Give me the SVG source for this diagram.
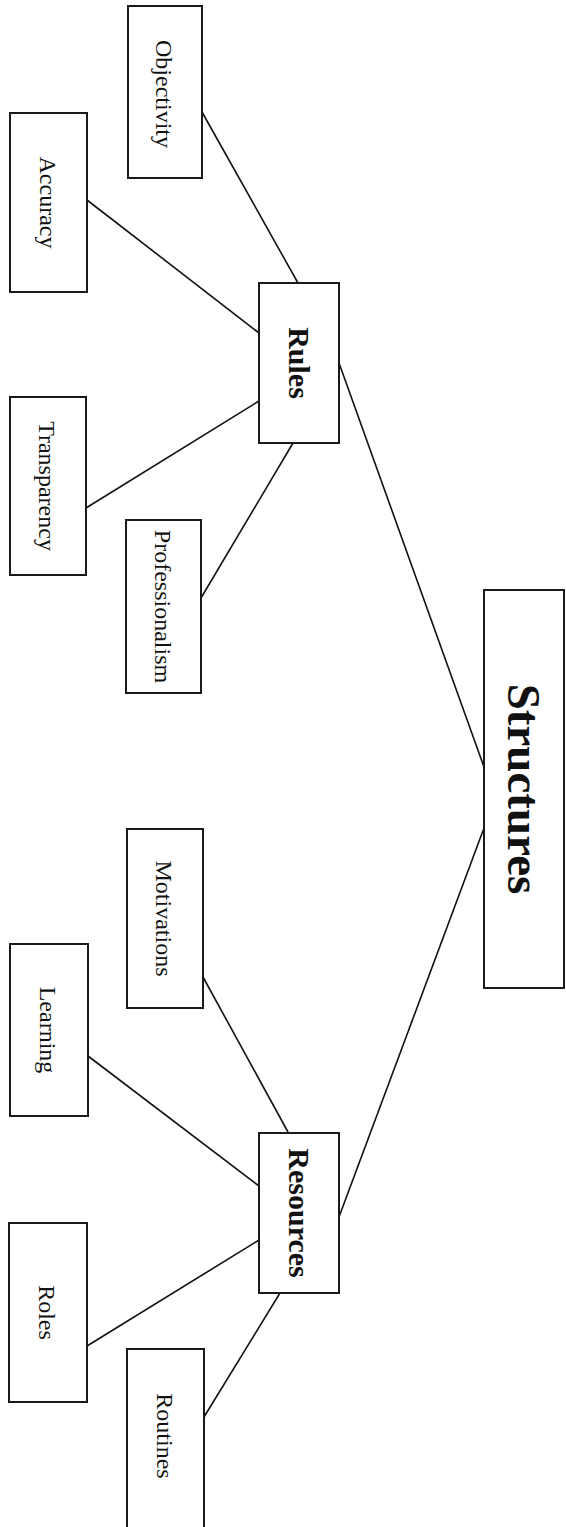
<svg xmlns="http://www.w3.org/2000/svg" width="566" height="1527" viewBox="0 0 566 1527">
<style>
.box{fill:#fff;stroke:#1a1a1a;stroke-width:2}
.lbl{font-family:"Liberation Serif","Times New Roman",serif;font-size:24px;fill:#111;text-anchor:middle;dominant-baseline:central}
.mid{font-family:"Liberation Serif","Times New Roman",serif;font-size:30px;font-weight:bold;fill:#111;text-anchor:middle;dominant-baseline:central}
.big{font-family:"Liberation Serif","Times New Roman",serif;font-size:47px;font-weight:bold;fill:#111;text-anchor:middle;dominant-baseline:central}
.con line{stroke:#111;stroke-width:1.6}
</style>
<rect width="566" height="1527" fill="#fff"/>
<g class="con" id="connectors">
<line x1="202" y1="112" x2="298" y2="283"/>
<line x1="87" y1="200" x2="259" y2="333"/>
<line x1="86" y1="508" x2="259" y2="401"/>
<line x1="201" y1="598" x2="293" y2="443"/>
<line x1="339" y1="363" x2="484" y2="767"/>
<line x1="203" y1="977" x2="288" y2="1132"/>
<line x1="88" y1="1056" x2="259" y2="1186"/>
<line x1="87" y1="1346" x2="259" y2="1240"/>
<line x1="204" y1="1417" x2="280" y2="1293"/>
<line x1="339" y1="1217" x2="484" y2="828"/>
</g>
<g id="objectivity"><rect class="box" x="128" y="6" width="74" height="172"/><text class="lbl" transform="translate(164,94) rotate(90)">Objectivity</text></g>
<g id="accuracy"><rect class="box" x="10" y="113" width="77" height="179"/><text class="lbl" transform="translate(47.5,202.5) rotate(90)">Accuracy</text></g>
<g id="transparency"><rect class="box" x="10" y="397" width="76" height="178"/><text class="lbl" transform="translate(47,486) rotate(90)">Transparency</text></g>
<g id="professionalism"><rect class="box" x="126" y="520" width="75" height="173"/><text class="lbl" transform="translate(162.5,606.5) rotate(90)">Professionalism</text></g>
<g id="rules"><rect class="box" x="259" y="283" width="80" height="160"/><text class="mid" transform="translate(299,363) rotate(90)">Rules</text></g>
<g id="structures"><rect class="box" x="484" y="590" width="80" height="398"/><text class="big" transform="translate(524,789) rotate(90)">Structures</text></g>
<g id="motivations"><rect class="box" x="127" y="829" width="76" height="179"/><text class="lbl" transform="translate(164,918.5) rotate(90)">Motivations</text></g>
<g id="learning"><rect class="box" x="10" y="944" width="78" height="172"/><text class="lbl" transform="translate(48,1030) rotate(90)">Learning</text></g>
<g id="resources"><rect class="box" x="259" y="1133" width="80" height="160"/><text class="mid" transform="translate(299,1213) rotate(90)">Resources</text></g>
<g id="roles"><rect class="box" x="9" y="1223" width="78" height="179"/><text class="lbl" transform="translate(47,1312.5) rotate(90)">Roles</text></g>
<g id="routines"><rect class="box" x="127" y="1349" width="77" height="182"/><text class="lbl" transform="translate(164.5,1436) rotate(90)">Routines</text></g>
</svg>
